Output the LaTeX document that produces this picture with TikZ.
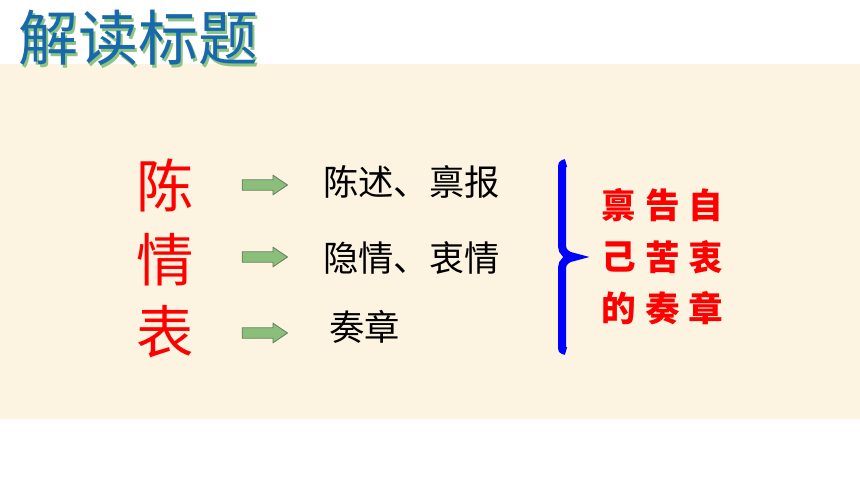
\documentclass[tikz,border=0pt]{standalone}
\usepackage{fontspec}
\setmainfont{Noto Sans CJK SC}
\usepackage{tikz}
\usetikzlibrary{shapes.arrows}

\definecolor{bgbeige}{RGB}{252,244,224}
\definecolor{titleblue}{RGB}{24,104,172}
\definecolor{titlegreen}{RGB}{140,196,128}
\definecolor{arrowgreen}{RGB}{138,190,122}
\definecolor{arrowedge}{RGB}{98,128,96}

\begin{document}
\begin{tikzpicture}[x=0.75pt,y=-0.75pt,
	titletext/.style={font=\fontsize{45}{45}\selectfont, inner sep=0pt},
	bigchar/.style={font=\fontsize{43}{43}\selectfont, text=red, inner sep=0pt},
	gist/.style={font=\fontsize{26.5}{26.5}\selectfont, inner sep=0pt, anchor=west},
	greenarrow/.style={single arrow, draw=arrowedge, fill=arrowgreen, line width=0.6pt,
		minimum height=34pt, single arrow head extend=3.4pt, single arrow tip angle=68, inner sep=3.6pt},
	sumchar/.style={font=\fontsize{26}{26}\selectfont\bfseries, text=red, inner sep=0pt}]
	\useasboundingbox (0,0) rectangle (860,484);
	\fill[bgbeige] (0,64) rectangle (860,419);
	% title with its shadow
	\node[titletext, text=titlegreen] (titleshadow) at (140.5,40.5) {解读标题};
	\node[titletext, text=titleblue] (title) at (138,38) {解读标题};
	% the three characters of the title
	\foreach \ch/\y [count=\i] in {陈/185, 情/260, 表/332}{
		\node[bigchar] (big\i) at (165,\y) {\ch};
	}
	\foreach \y [count=\i] in {185, 257, 333}{
		\node[greenarrow] (arrow\i) at (261,\y) {};
	}
	\node[gist] (gist1) at (323,182) {陈述、禀报};
	\node[gist] (gist2) at (323,258) {隐情、衷情};
	\node[gist] (gist3) at (329,327) {奏章};
	% brace
	\draw[blue, line width=6pt] (566,163) .. controls (562,164) .. (562,170) -- (562,246)
		.. controls (562,252) and (567,256) .. (574,257)
		.. controls (567,258) and (562,262) .. (562,268) -- (562,345)
		.. controls (562,350) .. (566,351);
	% summary, row by row
	\foreach \a/\b/\c [count=\r] in {禀/告/自, 己/苦/衷, 的/奏/章}{
		\node[sumchar] (sum\r a) at (619,{154+51.5*\r}) {\a};
		\node[sumchar] (sum\r b) at (663,{154+51.5*\r}) {\b};
		\node[sumchar] (sum\r c) at (706,{154+51.5*\r}) {\c};
	}
\end{tikzpicture}
\end{document}
